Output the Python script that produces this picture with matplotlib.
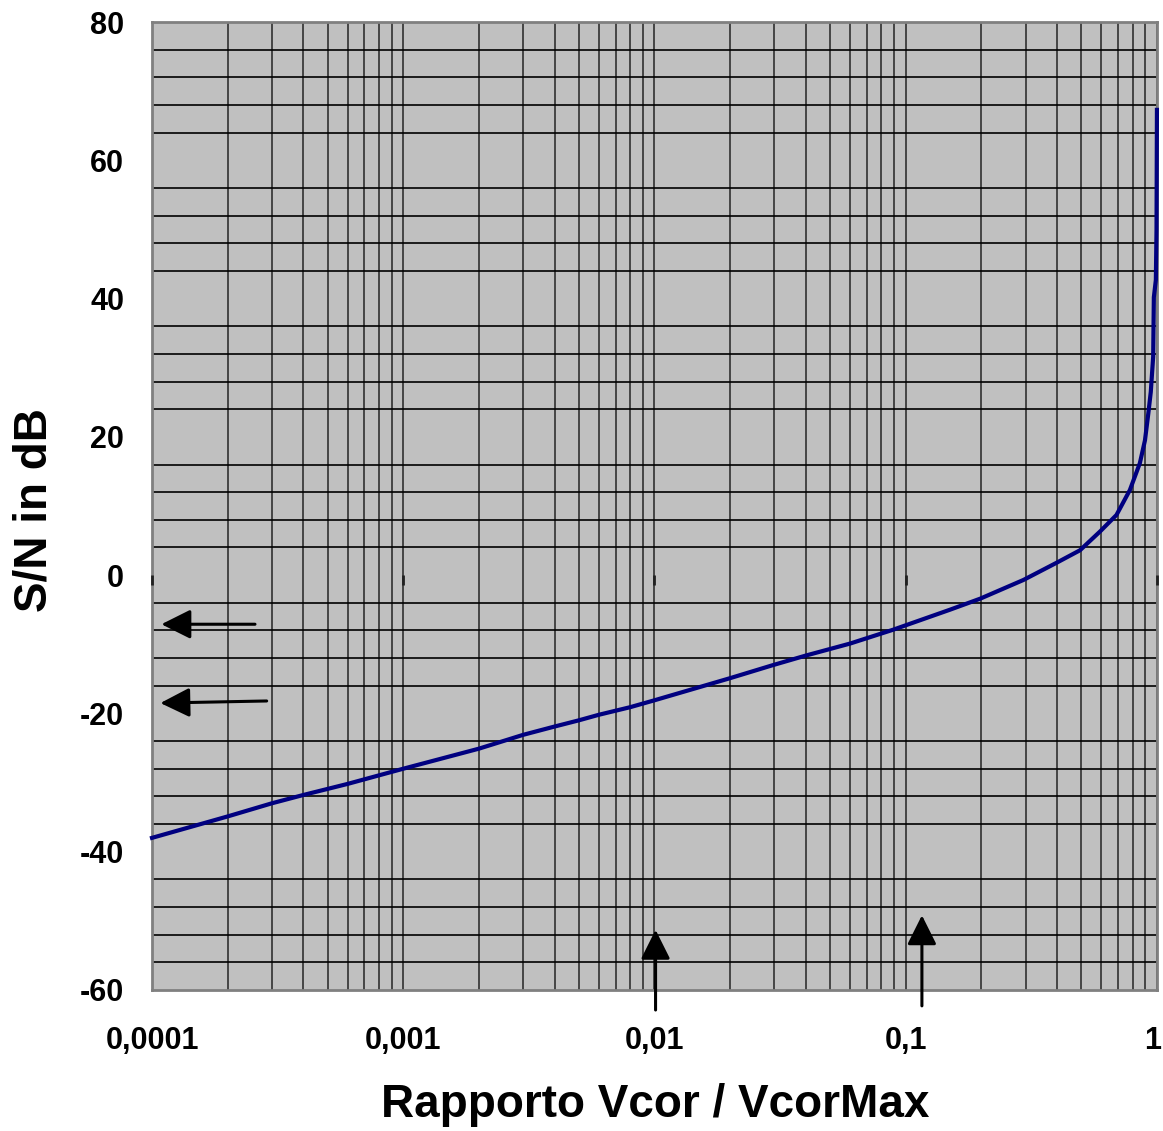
import matplotlib
matplotlib.use("Agg")
import matplotlib.pyplot as plt
import numpy as np
from matplotlib.ticker import FixedLocator, LogLocator, NullFormatter
from matplotlib.transforms import ScaledTranslation

plt.rcParams['font.family'] = ['Liberation Sans', 'DejaVu Sans']

# Curve
ratio = [0.0001, 0.0002, 0.0003, 0.0004, 0.0006, 0.001, 0.002, 0.003,
         0.004, 0.005, 0.006, 0.008, 0.010, 0.020, 0.0297, 0.0403, 0.060,
         0.089, 0.150, 0.198, 0.294, 0.399, 0.494, 0.593, 0.690, 0.780,
         0.855, 0.896, 0.924, 0.945, 0.966, 0.972, 0.990, 0.996, 0.9999]
snr_db = [-38.0, -34.9, -33.0, -31.8, -30.2, -28.0, -25.1, -23.1,
          -21.9, -21.0, -20.2, -19.1, -18.1, -14.9, -13.0, -11.6, -9.9,
          -7.9, -5.0, -3.4, -0.7, 1.8, 3.6, 6.3, 8.7, 12.3,
          16.2, 19.5, 23.4, 26.5, 31.6, 40.2, 42.7, 50.0, 67.3]

x_ticks = [0.0001, 0.001, 0.01, 0.1, 1]
x_tick_labels = ["0,0001", "0,001", "0,01", "0,1", "1"]
y_ticks = [-60, -40, -20, 0, 20, 40, 60, 80]
y_tick_labels = ["-60", "-40", "-20", "0", "20", "40", "60", "80"]

# Arrows (tail -> tip) in data coordinates
left_arrows = [((2.57e-4, -7.1), (1.09e-4, -7.1)),
               ((2.86e-4, -18.2), (1.08e-4, -18.5))]
up_arrows = [((0.0101, -62.9), (0.0101, -51.3)),
             ((0.116, -62.3), (0.116, -49.2))]

fig = plt.figure(figsize=(11.63, 11.31), dpi=100)
ax = fig.add_axes([0.1307, 0.1247, 0.8641, 0.8558])
ax.set_facecolor('#c0c0c0')
ax.set_xscale('log')
ax.set_xlim(1e-4, 1)
ax.set_ylim(-60, 80)

# grid
ax.xaxis.set_major_locator(FixedLocator(x_ticks))
ax.xaxis.set_minor_locator(LogLocator(base=10, subs=np.arange(2, 10), numticks=50))
ax.xaxis.set_minor_formatter(NullFormatter())
ax.yaxis.set_major_locator(FixedLocator(y_ticks))
ax.yaxis.set_minor_locator(FixedLocator(list(range(-60, 81, 4))))
ax.grid(True, which='both', axis='x', color='#303030', lw=1.2)
ax.grid(True, which='minor', axis='y', color='black', lw=1.2)
ax.grid(False, which='major', axis='y')
ax.set_axisbelow(True)

ax.set_xticklabels(x_tick_labels)
ax.set_yticklabels(y_tick_labels)
ax.tick_params(which='both', length=0)
ax.tick_params(axis='x', pad=26, labelsize=22)
ax.tick_params(axis='y', pad=20, labelsize=22)
for lab in ax.get_xticklabels() + ax.get_yticklabels():
    lab.set_fontweight('bold')
last = ax.get_xticklabels()[-1]
last.set_transform(last.get_transform() + ScaledTranslation(-4 / 100, 0, fig.dpi_scale_trans))

for s in ax.spines.values():
    s.set_color('#808080')
    s.set_linewidth(2)

# horizontal axis crossing at 0 with decade tick marks
ax.plot(x_ticks, [0] * len(x_ticks), linestyle='none', marker=3,
        markersize=7, markeredgewidth=2, color='#202020', clip_on=False, zorder=3)

ax.plot(ratio, snr_db, color='#000080', lw=3.0, zorder=4, clip_on=False)

aprops = dict(arrowstyle='-|>,head_length=1.0,head_width=0.5', color='black',
              lw=2.2, mutation_scale=18, shrinkA=0, shrinkB=0)
for tail, tip in left_arrows + up_arrows:
    ax.annotate('', xy=tip, xytext=tail, arrowprops=aprops, annotation_clip=False)

fig.text(655 / 1163, 1 - 1105 / 1131, 'Rapporto Vcor / VcorMax', fontsize=33,
         fontweight='bold', ha='center', va='center')
fig.text(35 / 1163, 1 - 510 / 1131, 'S/N in dB', fontsize=33, fontweight='bold',
         ha='center', va='center', rotation=90)

fig.savefig('out.png', dpi=100)
